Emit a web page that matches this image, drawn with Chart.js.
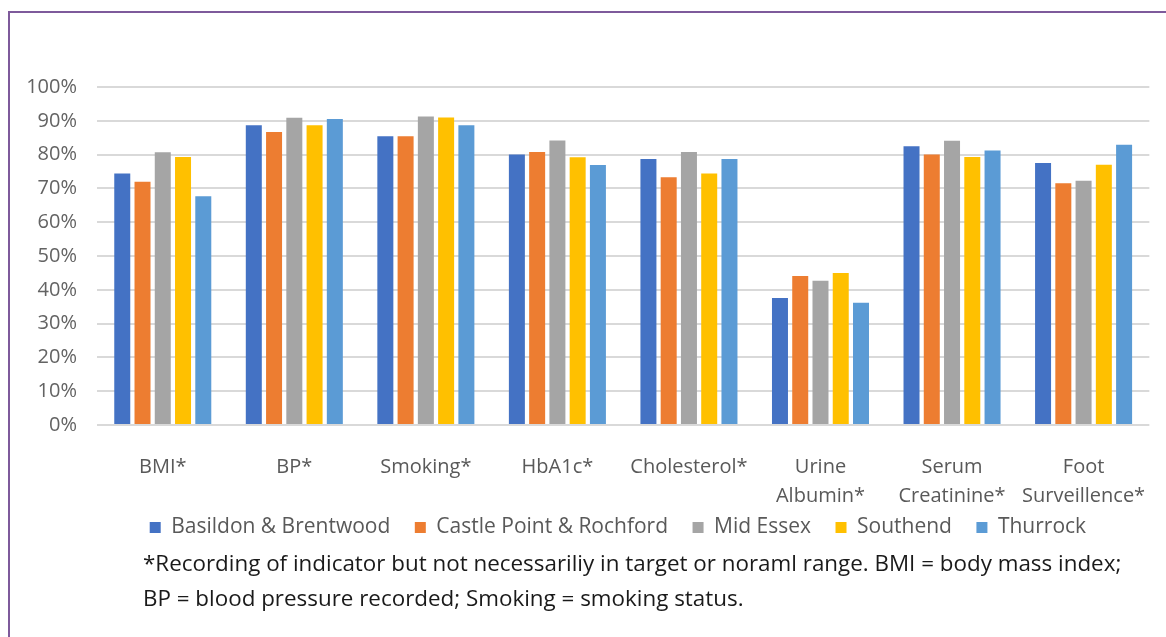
<!DOCTYPE html>
<html>
<head>
<meta charset="utf-8">
<script src="https://cdn.jsdelivr.net/npm/chart.js@4.4.1/dist/chart.umd.min.js"></script>
<style>
    html, body { margin: 0; padding: 0; background: #fff; }
    #wrap { position: relative; width: 1166px; height: 637px; overflow: hidden; }
    #frame {
        position: absolute; left: 8px; top: 11px; width: 1300px; height: 800px;
        border-left: 2px solid #7e5a9b; border-top: 2px solid #7e5a9b;
    }
    #note {
        position: absolute; left: 143px; top: 545px;
        font-family: "Open Sans", sans-serif; font-size: 22.4px; line-height: 35px;
        color: #1a1a1a; white-space: nowrap;
    }
</style>
</head>
<body>
<div id="wrap">
    <canvas id="recordingChart" width="1166" height="637"></canvas>
    <div id="frame"></div>
    <div id="note">
        *Recording of indicator but not necessariliy in target or noraml range. BMI = body mass index;<br>
        BP = blood pressure recorded; Smoking = smoking status.
    </div>
</div>
<script>
    // indicators recorded, % of patients per area
    const indicators = ['BMI*', 'BP*', 'Smoking*', 'HbA1c*', 'Cholesterol*',
        ['Urine', 'Albumin*'], ['Serum', 'Creatinine*'], ['Foot', 'Surveillence*']];
    const basildon = [74.4, 88.7, 85.4, 80.0, 78.7, 37.6, 82.5, 77.5];
    const castlePoint = [72.0, 86.7, 85.4, 80.8, 73.3, 44.1, 80.0, 71.5];
    const midEssex = [80.7, 90.9, 91.3, 84.2, 80.8, 42.7, 84.1, 72.3];
    const southend = [79.3, 88.7, 91.0, 79.2, 74.4, 45.0, 79.3, 77.0];
    const thurrock = [67.7, 90.5, 88.7, 76.9, 78.7, 36.2, 81.2, 82.9];
    const areaNames = ['Basildon & Brentwood', 'Castle Point & Rochford', 'Mid Essex', 'Southend', 'Thurrock'];
    const areaColours = ['#4472C4', '#ED7D31', '#A5A5A5', '#FFC000', '#5B9BD5'];
    const yTicks = [0, 10, 20, 30, 40, 50, 60, 70, 80, 90, 100];

    const series = [basildon, castlePoint, midEssex, southend, thurrock];
    const font = 'Open Sans';

    // default legend items, with a little extra room after each name
    const defaultLabels = Chart.defaults.plugins.legend.labels.generateLabels;
    function spacedLabels(chart) {
        return defaultLabels(chart).map(item => ({ ...item, text: item.text + '\u2002' }));
    }

    new Chart(document.getElementById('recordingChart'), {
        type: 'bar',
        data: {
            labels: indicators,
            datasets: series.map((values, i) => ({
                label: areaNames[i],
                data: values,
                backgroundColor: areaColours[i],
                categoryPercentage: 0.77,
                barPercentage: 0.79
            }))
        },
        options: {
            responsive: false,
            animation: false,
            layout: { padding: { left: 9, right: 14, top: 87, bottom: 89 } },
            scales: {
                x: {
                    grid: { display: false },
                    border: { display: false },
                    ticks: {
                        color: '#595959',
                        font: { family: font, size: 20, lineHeight: 1.45 },
                        padding: 20,
                        maxRotation: 0
                    },
                    afterFit: scale => { scale.height = 78; }
                },
                y: {
                    min: 0,
                    max: 100,
                    afterBuildTicks: scale => { scale.ticks = yTicks.map(v => ({ value: v })); },
                    grid: { color: '#d9d9d9', lineWidth: 2, drawTicks: false },
                    border: { display: false },
                    ticks: {
                        color: '#636363',
                        font: { family: font, size: 20 },
                        padding: 20,
                        callback: v => v + '%'
                    },
                    afterFit: scale => { scale.width = 88; }
                }
            },
            plugins: {
                legend: {
                    position: 'bottom',
                    fullSize: false,
                    labels: {
                        boxWidth: 11,
                        boxHeight: 11,
                        padding: 14,
                        color: '#595959',
                        font: { family: font, size: 21 },
                        generateLabels: spacedLabels
                    }
                },
                tooltip: { enabled: false }
            }
        }
    });
</script>
</body>
</html>
